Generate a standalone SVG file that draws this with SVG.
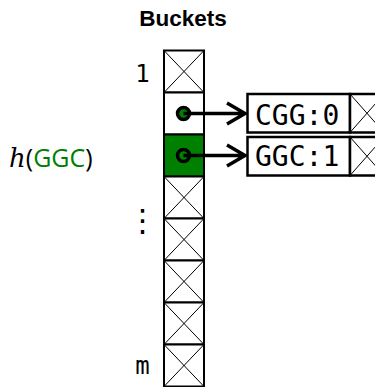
<svg xmlns="http://www.w3.org/2000/svg" width="375" height="387" viewBox="0 0 375 387">
  <style>
    .cell { fill: #ffffff; stroke: #000000; stroke-width: 2; }
    .hit { fill: #008000; stroke: #000000; stroke-width: 2; }
    .cross { stroke: #000000; stroke-width: 1; fill: none; }
    .rec { fill: #ffffff; stroke: #000000; stroke-width: 2.5; }
    .mono { font-family: "DejaVu Sans Mono", "Liberation Mono", monospace; fill: #000000; }
    .title { font-family: "Liberation Sans", Arial, sans-serif; font-weight: bold; font-size: 22.5px; fill: #000000; }
    .ptr { stroke: #000000; stroke-width: 3.5; fill: none; }
    .dot { fill: #008000; stroke: #000000; stroke-width: 3.5; }
  </style>
  <defs>
    <g id="xcell">
      <rect class="cell" x="0" y="0" width="40" height="42"/>
      <path class="cross" d="M0,0 L40,42 M40,0 L0,42"/>
    </g>
    <g id="xtail">
      <path class="cross" d="M0,0 L34,38.5 M34,0 L0,38.5"/>
    </g>
  </defs>

  <text class="title" x="183" y="25.5" text-anchor="middle">Buckets</text>

  <!-- bucket array -->
  <g id="bucket-1"><use href="#xcell" x="164" y="50.5"/></g>
  <g id="bucket-2"><rect class="cell" x="164" y="92.5" width="40" height="42"/></g>
  <g id="bucket-3"><rect class="hit" x="164" y="134.5" width="40" height="42"/></g>
  <g id="bucket-4"><use href="#xcell" x="164" y="176.5"/></g>
  <g id="bucket-5"><use href="#xcell" x="164" y="218.5"/></g>
  <g id="bucket-6"><use href="#xcell" x="164" y="260.5"/></g>
  <g id="bucket-7"><use href="#xcell" x="164" y="302.5"/></g>
  <g id="bucket-8"><use href="#xcell" x="164" y="344.5"/></g>

  <text class="mono" x="142.5" y="82" font-size="24" text-anchor="middle">1</text>
  <text class="mono" x="142.5" y="374" font-size="24" text-anchor="middle">m</text>
  <text x="142.5" y="231" font-family="DejaVu Sans, sans-serif" font-size="31" text-anchor="middle">⋮</text>

  <text x="9" y="166.5" font-size="25"><tspan font-family="DejaVu Serif, serif" font-style="italic" font-size="26">h</tspan><tspan font-family="Open Sans, sans-serif">(<tspan fill="#008000">GGC</tspan>)</tspan></text>

  <!-- chain records -->
  <g id="rec-cgg">
    <rect class="rec" x="247.5" y="94" width="102.5" height="38.5"/>
    <rect class="rec" x="350" y="94" width="34" height="38.5"/>
    <use href="#xtail" x="350" y="94"/>
    <text class="mono" x="255" y="125" font-size="28">CGG:0</text>
  </g>
  <g id="rec-ggc">
    <rect class="rec" x="247.5" y="137" width="102.5" height="38.5"/>
    <rect class="rec" x="350" y="137" width="34" height="38.5"/>
    <use href="#xtail" x="350" y="137"/>
    <text class="mono" x="255" y="166" font-size="28">GGC:1</text>
  </g>

  <!-- pointers -->
  <g id="connectors">
    <circle class="dot" cx="183.5" cy="113.5" r="6"/>
    <path class="ptr" d="M183.5,113.5 H244 M227,103 L245,113.5 L227,124"/>
    <circle class="dot" cx="183.5" cy="155.5" r="6"/>
    <path class="ptr" d="M183.5,155.5 H244 M227,145 L245,155.5 L227,166"/>
  </g>
</svg>
